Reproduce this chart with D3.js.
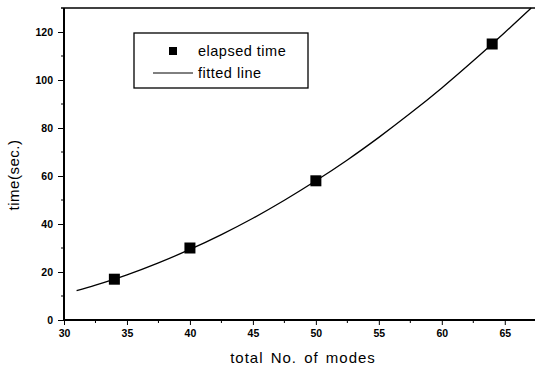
<!DOCTYPE html>
<html>
<head>
<meta charset="utf-8">
<script src="https://cdn.jsdelivr.net/npm/d3@7"></script>
<style>
body { margin: 0; background: #fff; }
text { font-family: "Liberation Sans", Arial, sans-serif; fill: #000; }
</style>
</head>
<body>
<svg width="535" height="371"></svg>
<script>
// measured points
var modes = [34, 40, 50, 64];
var elapsed = [17, 30, 58, 115];

// fitted line
var fitX = [31, 32.5, 35, 37.5, 40, 42.5, 45, 47.5, 50, 52.5, 55, 57.5, 60, 62.5, 65, 67.1];
var fitY = [12.2, 14.5, 18.8, 23.8, 29.4, 35.6, 42.4, 49.9, 58.0, 66.7, 76.1, 86.1, 96.7, 108.0, 119.8, 130];

var xTicks = [30, 35, 40, 45, 50, 55, 60, 65];
var yTicks = [0, 20, 40, 60, 80, 100, 120];

var svg = d3.select("svg"),
	pLeft = 64, pRight = 535, pTop = 8, pBottom = 320;

var x = d3.scaleLinear().domain([30, 67.4]).range([pLeft, pRight]);
var y = d3.scaleLinear().domain([0, 130]).range([pBottom, pTop]);

// frame top line
svg.append("line")
	.attr("x1", pLeft - 3).attr("x2", pRight)
	.attr("y1", pTop).attr("y2", pTop)
	.attr("stroke", "#000").attr("stroke-width", 1.5);

// x axis
var xAxis = svg.append("g")
	.attr("transform", "translate(0," + pBottom + ")")
	.call(d3.axisBottom(x).tickValues(xTicks).tickSize(5).tickPadding(5).tickFormat(d3.format("d")));
xAxis.append("g").selectAll("line")
	.data(d3.range(32.5, 67.5, 5))
	.enter().append("line")
	.attr("x1", function (d) { return x(d); })
	.attr("x2", function (d) { return x(d); })
	.attr("y1", 0).attr("y2", 3)
	.attr("stroke", "#000");

// y axis
var yAxis = svg.append("g")
	.attr("transform", "translate(" + pLeft + ",0)")
	.call(d3.axisLeft(y).tickValues(yTicks).tickSize(6).tickPadding(5));
yAxis.append("g").selectAll("line")
	.data(d3.range(10, 130, 20))
	.enter().append("line")
	.attr("y1", function (d) { return y(d); })
	.attr("y2", function (d) { return y(d); })
	.attr("x1", 0).attr("x2", -3)
	.attr("stroke", "#000");

xAxis.select(".domain").remove();
yAxis.select(".domain").remove();
xAxis.append("line").attr("x1", pLeft - 1).attr("x2", pRight).attr("stroke", "#000").attr("stroke-width", 2);
yAxis.append("line").attr("y1", pBottom + 1).attr("y2", pTop).attr("stroke", "#000").attr("stroke-width", 2);

svg.selectAll(".tick text")
	.style("font-size", "10.5px")
	.style("font-weight", "bold")
	.style("font-family", "'Liberation Sans', Arial, sans-serif");

// fitted curve
var line = d3.line()
	.x(function (d) { return x(d[0]); })
	.y(function (d) { return y(d[1]); })
	.curve(d3.curveCatmullRom);

svg.append("path")
	.datum(d3.zip(fitX, fitY))
	.attr("d", line)
	.attr("fill", "none")
	.attr("stroke", "#000")
	.attr("stroke-width", 1.3);

// markers
svg.append("g").selectAll("rect")
	.data(d3.zip(modes, elapsed))
	.enter().append("rect")
	.attr("x", function (d) { return x(d[0]) - 5.5; })
	.attr("y", function (d) { return y(d[1]) - 5.5; })
	.attr("width", 11)
	.attr("height", 11)
	.attr("fill", "#000");

// legend
var lg = svg.append("g");
lg.append("rect")
	.attr("x", 134).attr("y", 33).attr("width", 174).attr("height", 55)
	.attr("fill", "none").attr("stroke", "#000").attr("stroke-width", 1.3);
lg.append("rect")
	.attr("x", 169).attr("y", 47).attr("width", 8).attr("height", 8)
	.attr("fill", "#000");
lg.append("text").attr("x", 198).attr("y", 56)
	.style("font-size", "14.5px").style("letter-spacing", "0.5px").text("elapsed time");
lg.append("line")
	.attr("x1", 153).attr("x2", 193).attr("y1", 73).attr("y2", 73)
	.attr("stroke", "#000").attr("stroke-width", 1);
lg.append("text").attr("x", 198).attr("y", 78)
	.style("font-size", "14.5px").style("letter-spacing", "0.5px").text("fitted line");

// axis titles
svg.append("text")
	.attr("x", 303).attr("y", 363)
	.attr("text-anchor", "middle")
	.style("font-size", "15px")
	.style("letter-spacing", "1px")
	.style("word-spacing", "2px")
	.text("total No. of modes");

svg.append("text")
	.attr("transform", "translate(19,175) rotate(-90)")
	.attr("text-anchor", "middle")
	.style("font-size", "15px")
	.style("letter-spacing", "0.5px")
	.text("time(sec.)");
</script>
</body>
</html>
